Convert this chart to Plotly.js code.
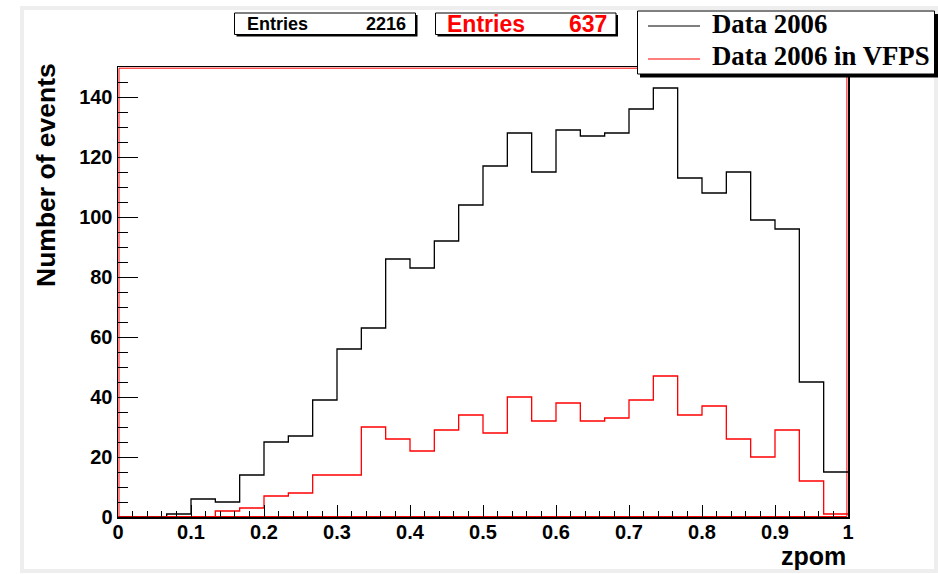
<!DOCTYPE html>
<html>
<head>
<meta charset="utf-8">
<script src="https://cdn.plot.ly/plotly-3.0.1.min.js"></script>
<style>html,body{margin:0;padding:0;background:#fff;}#chart{width:938px;height:574px;}</style>
</head>
<body>
<div id="chart"></div>
<script>
// ---- data ----
const nBins = 30;
const xMin = 0, xMax = 1;
const dataAll = [0,0,1,6,5,14,25,27,39,56,63,86,83,92,104,117,128,115,129,127,128,136,143,113,108,115,99,96,45,15];
const dataVFPS = [0,0,0,0,2,3,7,8,14,14,30,26,22,29,34,28,40,32,38,32,33,39,47,34,37,26,20,29,12,1];
const seriesNames = ["Data 2006", "Data 2006 in VFPS"];
const entriesAll = 2216;
const entriesVFPS = 637;
const xTitle = "zpom";
const yTitle = "Number of events";

// ---- layout geometry ----
const W = 938, H = 574;
const M = {l:118, r:90, t:67, b:57};
const PW = W - M.l - M.r, PH = H - M.t - M.b;
const px = v => (v - M.l) / PW;      // pixel x -> paper
const py = v => (H - M.b - v) / PH;  // pixel y -> paper

const edges = [];
for (let i = 0; i <= nBins; i++) edges.push(xMin + (xMax - xMin) * i / nBins);
function stepY(vals){ return vals.concat([vals[vals.length-1]]); }

const sans = "Liberation Sans, Arial, Helvetica, sans-serif";
const serif = "Liberation Serif, Times New Roman, serif";

const traces = [
  {x: edges, y: stepY(dataAll), type:'scatter', mode:'lines', name: seriesNames[0],
   line:{shape:'hv', color:'#000000', width:1.3}, showlegend:false, hoverinfo:'skip'},
  {x: edges, y: stepY(dataVFPS), type:'scatter', mode:'lines', name: seriesNames[1],
   line:{shape:'hv', color:'#ff0000', width:1.3}, showlegend:false, hoverinfo:'skip'}
];

function rect(x0,y0,x1,y1,opts){
  return Object.assign({type:'rect', xref:'paper', yref:'paper', x0:px(x0), x1:px(x1), y0:py(y1), y1:py(y0), layer:'above'}, opts);
}
function hline(x0,x1,y,color){
  return {type:'line', xref:'paper', yref:'paper', x0:px(x0), x1:px(x1), y0:py(y), y1:py(y), line:{color:color, width:1.2}, layer:'above'};
}
function ann(text, x, y, xanchor, font, extra){
  return Object.assign({text:text, xref:'paper', yref:'paper', x:px(x), y:py(y), xanchor:xanchor, yanchor:'middle', showarrow:false, font:font}, extra||{});
}

const shapes = [
  // canvas border
  rect(22, 8, 936, 571, {line:{color:'#eeeeee', width:4}, fillcolor:'rgba(0,0,0,0)', layer:'below'}),
  // inner red frame
  rect(119, 68.2, 846.9, 516.5, {line:{color:'#ff0000', width:1}, fillcolor:'rgba(0,0,0,0)', layer:'below'}),
  // stat box 1
  rect(236.5, 15, 417.5, 36.5, {line:{width:0}, fillcolor:'#000'}),
  rect(234.5, 13, 415.5, 34.5, {line:{color:'#000', width:1}, fillcolor:'#fff'}),
  // stat box 2
  rect(437.5, 15, 618, 36.5, {line:{width:0}, fillcolor:'#000'}),
  rect(435.5, 13, 616, 34.5, {line:{color:'#000', width:1}, fillcolor:'#fff'}),
  // legend box
  rect(640, 14, 938, 77.5, {line:{width:0}, fillcolor:'#000'}),
  rect(637.5, 11, 934.5, 74, {line:{color:'#000', width:1}, fillcolor:'#fff'}),
  hline(648, 700, 26, '#000000'),
  hline(648, 700, 59, '#ff0000')
];

const annotations = [
  ann('Entries', 245, 24, 'left', {family:sans, size:18, color:'#000', weight:'bold'}),
  ann(String(entriesAll), 408, 24, 'right', {family:sans, size:18, color:'#000', weight:'bold'}),
  ann('Entries', 445, 24, 'left', {family:sans, size:23, color:'#ff0000', weight:'bold'}),
  ann(String(entriesVFPS), 609, 24, 'right', {family:sans, size:23, color:'#ff0000', weight:'bold'}),
  ann(seriesNames[0], 710, 24, 'left', {family:serif, size:26.8, color:'#000', weight:'bold'}),
  ann(seriesNames[1], 710, 56, 'left', {family:serif, size:26.8, color:'#000', weight:'bold'}),
  ann(xTitle, 848, 556, 'right', {family:sans, size:25, color:'#000', weight:'bold'}),
  ann(yTitle, 46, 175, 'center', {family:sans, size:26.5, color:'#000', weight:'bold'}, {textangle:-90})
];

const tickFont = {family:sans, size:20, color:'#000', weight:'bold'};

const layout = {
  width: W, height: H,
  margin: M,
  paper_bgcolor:'#ffffff', plot_bgcolor:'#ffffff',
  showlegend:false,
  xaxis:{range:[xMin, xMax], dtick:0.1, tick0:0, ticks:'inside', ticklen:12, tickwidth:1, tickcolor:'#000',
         minor:{dtick:0.02, ticks:'inside', ticklen:6, tickcolor:'#000', tickwidth:1},
         showgrid:false, zeroline:false, showline:true, mirror:true, linecolor:'#000', linewidth:1.5,
         tickfont:tickFont, ticklabelstandoff:-4, fixedrange:true},
  yaxis:{range:[0,150], dtick:20, tick0:0, ticks:'inside', ticklen:20, tickwidth:1, tickcolor:'#000',
         minor:{dtick:5, ticks:'inside', ticklen:10, tickcolor:'#000', tickwidth:1},
         showgrid:false, zeroline:false, showline:true, mirror:true, linecolor:'#000', linewidth:1.5,
         tickfont:tickFont, fixedrange:true},
  shapes: shapes,
  annotations: annotations
};

Plotly.newPlot('chart', traces, layout, {staticPlot:true, displayModeBar:false});
</script>
</body>
</html>
